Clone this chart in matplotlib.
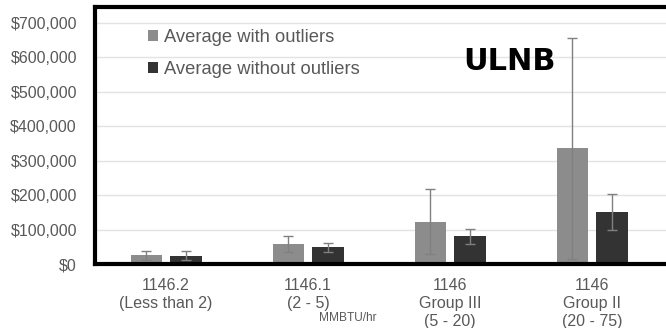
import matplotlib
matplotlib.use("Agg")
import matplotlib.pyplot as plt
import numpy as np
from matplotlib.patches import Patch

categories = ["1146.2\n(Less than 2)", "1146.1\n(2 - 5)", "1146\nGroup III\n(5 - 20)", "1146\nGroup II\n(20 - 75)"]
with_outliers = [25000, 57000, 123000, 335000]
with_outliers_err = [13000, 23000, 93000, 321000]
without_outliers = [24000, 48000, 80000, 150000]
without_outliers_err = [13000, 13000, 22000, 52000]
yticks = [0, 100000, 200000, 300000, 400000, 500000, 600000, 700000]
ytick_labels = ["$0", "$100,000", "$200,000", "$300,000", "$400,000", "$500,000", "$600,000", "$700,000"]

plt.rcParams['font.family'] = ['Liberation Sans', 'DejaVu Sans']
W, H = 666, 328
fig = plt.figure(figsize=(W/100, H/100), dpi=100)
ax = fig.add_axes([95/W, (H-264)/H, (666-95)/W, (264-7)/H])

x = np.arange(len(categories))
bw = 0.22
off = 0.14
gray = '#8c8c8c'
dark = '#333333'
ecol = '#808080'
ax.bar(x - off, with_outliers, bw, color=gray, zorder=2,
       yerr=with_outliers_err, error_kw=dict(ecolor=ecol, elinewidth=1, capsize=3.5, capthick=1, zorder=3))
ax.bar(x + off, without_outliers, bw, color=dark, zorder=2,
       yerr=without_outliers_err, error_kw=dict(ecolor=ecol, elinewidth=1, capsize=3.5, capthick=1, zorder=3))

ax.set_xlim(-0.5, 3.5 + 3/142)
ax.set_ylim(0, 745000)
ax.set_yticks(yticks)
ax.set_yticklabels(ytick_labels)
ax.set_xticks(x)
ax.set_xticklabels(categories, linespacing=1.25)
ax.tick_params(axis='both', length=0, labelsize=11.5, colors='#595959')
ax.tick_params(axis='y', pad=13)
ax.tick_params(axis='x', pad=10)
ax.grid(axis='y', color='#e3e3e3', lw=1, zorder=0)
ax.set_axisbelow(True)
for s in ['left', 'top', 'bottom']:
    ax.spines[s].set_linewidth(3)
    ax.spines[s].set_color('black')
ax.spines['right'].set_visible(False)

handles = [Patch(facecolor=gray), Patch(facecolor=dark)]
leg = fig.legend(handles, ["Average with outliers", "Average without outliers"],
                 loc='upper left', bbox_to_anchor=(148/W, 1 - 29/H), frameon=False,
                 fontsize=13.2, handlelength=0.55, handleheight=0.55, handletextpad=0.3,
                 labelspacing=0.82, borderaxespad=0, borderpad=0)
for t in leg.get_texts():
    t.set_color('#595959')

fig.text(509/W, 1 - 62/H, "ULNB", family='DejaVu Sans', fontweight='bold', fontsize=22,
         ha='center', va='center', color='black')
fig.text(319/W, 1 - 318/H, "MMBTU/hr", fontsize=8.6, ha='left', va='center', color='#595959')

fig.savefig("out.png", dpi=100)
